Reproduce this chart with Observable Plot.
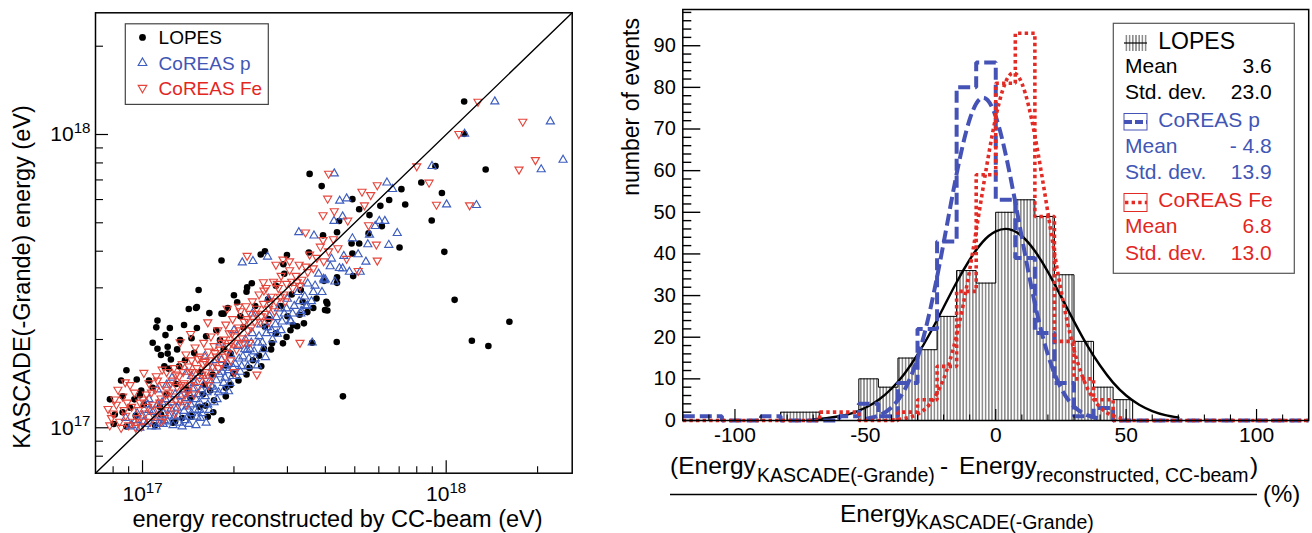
<!DOCTYPE html>
<html><head><meta charset="utf-8">
<script src="https://cdn.jsdelivr.net/npm/d3@7"></script>
<script src="https://cdn.jsdelivr.net/npm/@observablehq/plot@0.6"></script>
<style>
body{margin:0;background:#fff;font-family:"Liberation Sans",Arial,sans-serif;}
#wrap{position:relative;width:1312px;height:533px;overflow:hidden;background:#fff;}
#left{position:absolute;left:0;top:0;width:600px;height:533px;}
#right{position:absolute;left:600px;top:0;width:712px;height:533px;}
</style></head><body>
<svg width="0" height="0" style="position:absolute"><defs>
<pattern id="hatch" patternUnits="userSpaceOnUse" width="3.2" height="10"><line x1="1.6" y1="0" x2="1.6" y2="10" stroke="#000" stroke-width="0.8"/></pattern>
</defs></svg>
<div id="wrap"><div id="left"></div><div id="right"></div></div>
<script>
// ---------------- data: left panel (energies in units of 1e17 eV) ----------------
const unit = 1e17;
const energyDomain = [0.7e17, 2.6e18];
const lopesPts = [[11.46,12.95],[11.46,10.05],[9.22,7.80],[13.49,7.60],[9.68,6.32],[8.28,6.86],[8.96,5.09],[9.86,3.98],[10.66,2.73],[16.15,2.30],[12.15,1.98],[13.77,1.90],[4.57,1.28],[4.36,1.96],[3.55,7.34],[3.89,6.67],[7.12,6.51],[7.33,5.77],[6.49,5.98],[7.02,4.12],[6.14,4.87],[5.17,5.56],[4.91,6.02],[5.59,5.31],[6.07,5.71],[5.55,4.60],[5.17,4.25],[4.88,4.25],[4.91,3.93],[4.37,4.64],[4.44,5.07],[3.93,4.53],[3.53,3.96],[2.99,3.88],[2.91,3.61],[2.93,3.35],[2.45,3.90],[2.53,4.00],[1.82,3.72],[2.29,3.11],[2.21,3.01],[1.53,2.95],[2.00,2.83],[2.20,2.91],[2.05,2.68],[1.91,2.56],[1.50,2.56],[1.42,2.54],[1.66,2.46],[1.82,2.45],[1.12,2.32],[1.11,2.20],[1.23,2.19],[1.08,1.95],[1.12,1.86],[1.21,1.89],[1.15,1.77],[1.21,1.79],[1.30,1.85],[0.885,1.57],[0.957,1.46],[0.781,1.25],[0.804,1.03],[1.82,1.06],[1.71,1.13],[1.64,1.09],[1.45,1.09],[1.88,1.28],[1.67,1.34],[2.20,1.52],[2.46,1.62],[2.67,1.94],[2.90,1.94],[2.98,2.04],[3.13,2.24],[3.29,2.43],[3.74,2.76],[4.03,2.69],[3.99,2.52],[3.65,2.56],[3.37,2.69],[4.37,3.12],[3.96,3.17],[4.94,3.29],[4.37,3.26],[3.32,2.95],[2.75,3.05],[2.59,2.74],[2.42,1.76],[1.95,1.79],[1.33,1.99],[1.38,1.70],[1.24,1.71],[1.22,1.59],[1.29,1.41],[1.08,1.37],[0.99,1.34],[0.86,1.28],[0.81,1.11],[0.885,1.01],[1.01,1.20],[1.15,1.11],[1.26,1.04],[1.35,1.08],[1.54,1.18],[1.58,1.30],[1.44,1.26],[1.99,1.53],[1.88,1.37],[2.31,1.70],[2.07,1.45],[1.70,1.52],[1.88,1.63],[2.75,2.10],[2.53,2.21],[3.23,2.22],[3.62,1.95],[1.80,1.99],[1.51,2.19],[1.37,2.24],[1.19,2.07],[1.45,2.02],[0.94,1.25],[0.85,1.45],[0.91,1.17],[1.51,2.58],[1.85,2.45],[2.51,1.86],[3.07,2.15],[3.40,2.27],[3.49,2.48],[4.06,2.65],[4.06,2.51],[1.61,1.19],[1.72,1.24],[1.44,1.10],[1.28,1.05],[1.14,1.18],[0.98,1.29],[0.86,1.13],
[1.05,1.45],[1.18,1.62],[1.32,1.62],[1.48,1.80],[1.62,2.05],[1.75,2.15],[2.10,2.40],[2.35,2.60],[2.60,2.35],[2.85,2.60],[3.10,2.85],[1.10,1.02],[1.40,1.35],[1.60,1.40],[1.95,1.40],[2.25,1.60],[2.65,1.85],[3.00,2.40],[0.95,1.10],[1.20,1.30],[1.55,1.55],[1.85,1.85],[2.15,2.20]];
const coreasP = [[14.46,12.95],[22.03,11.07],[24.26,8.19],[20.55,7.60],[11.5,10.05],[8.98,7.80],[10.03,5.77],[12.58,5.74],[4.28,7.36],[6.66,6.51],[6.38,6.85],[4.46,5.94],[4.70,6.05],[6.90,4.61],[6.47,4.20],[6.02,5.07],[3.27,4.64],[3.67,4.52],[4.27,5.07],[4.56,5.25],[2.13,3.66],[2.31,3.70],[2.58,3.83],[5.13,3.90],[5.44,3.68],[5.21,3.40],[3.95,3.22],[3.62,1.95],[4.56,3.49],[4.19,3.77],[5.59,4.55],[5.52,4.22],[5.84,4.87],[6.28,5.07],[4.91,4.42],
[0.92,1.02],[0.95,1.06],[0.98,1.00],[1.00,1.10],[1.03,1.03],[1.05,1.15],[1.07,1.01],[1.10,1.08],[1.12,1.20],[1.14,1.03],[1.17,1.12],[1.19,1.25],[1.21,1.05],[1.24,1.16],[1.26,1.02],[1.28,1.30],[1.31,1.10],[1.33,1.22],[1.36,1.35],[1.38,1.06],[1.40,1.18],[1.43,1.30],[1.45,1.12],[1.48,1.42],[1.50,1.25],[1.53,1.15],[1.56,1.35],[1.58,1.50],[1.61,1.28],[1.64,1.20],[1.67,1.45],[1.70,1.60],[1.73,1.35],[1.76,1.25],[1.79,1.52],[1.82,1.70],[1.85,1.42],[1.88,1.60],[1.92,1.33],[1.95,1.78],[1.98,1.50],[2.02,1.65],[2.06,1.90],[2.10,1.55],[2.14,1.75],[2.18,2.00],[2.22,1.62],[2.26,1.85],[2.30,2.10],[2.35,1.72],[2.40,1.95],[2.45,2.25],[2.50,1.85],[2.56,2.10],[2.62,2.40],[2.68,2.00],[2.74,2.25],[2.80,2.55],[2.86,2.15],[2.93,2.45],[3.00,2.75],[3.08,2.30],[3.16,2.60],[3.25,2.90],[3.33,2.50],[3.42,2.80],[3.50,3.10],[3.60,2.70],[3.70,3.05],[3.80,3.35],[3.90,2.90],[4.00,3.20],[4.15,3.55],[4.30,3.15],[4.45,3.50],[4.60,3.85],[4.80,3.40],[1.35,1.01],[1.42,1.03],[1.50,1.02],[1.55,1.08],[1.62,1.04],[2.54,1.74],[2.39,1.63],[1.92,1.57],[1.51,1.09],[1.85,1.34],[2.21,1.84],[2.78,2.09],[3.07,2.32],[3.32,2.45],[3.49,2.61],[3.96,3.18],[0.91,1.01],[1.17,1.03],[1.12,1.35],[1.25,1.48],[1.40,1.55],[1.60,1.75],[1.80,1.95],[2.00,2.15],[2.30,2.45],[2.60,2.75],[1.05,1.25],[0.88,1.08],
[0.96,1.12],[1.01,1.05],[1.04,1.20],[1.08,1.13],[1.11,1.01],[1.13,1.10],[1.16,1.22],[1.18,1.06],[1.22,1.10],[1.25,1.22],[1.27,1.09],[1.30,1.17],[1.32,1.04],[1.34,1.28],[1.37,1.14],[1.39,1.26],[1.41,1.09],[1.44,1.20],[1.46,1.36],[1.49,1.15],[1.52,1.30],[1.54,1.22],[1.57,1.12],[1.59,1.40],[1.63,1.32],[1.66,1.15],[1.69,1.38],[1.72,1.22],[1.75,1.45],[1.78,1.32],[1.83,1.55],[1.87,1.48],[1.91,1.65],[1.94,1.42],[1.99,1.60],[2.04,1.50],[2.08,1.72],[2.12,1.62],[2.17,1.85],[2.24,1.72],[2.28,1.95],[2.33,1.82],[2.42,2.05],[2.48,1.95],[2.58,2.20],[2.66,2.15],[2.76,2.38],[2.88,2.30],[2.98,2.55],[3.12,2.45],[3.28,2.70],[3.45,2.60],[3.65,2.90],[1.20,1.40],[1.45,1.50],[1.75,1.70]];
const coreasFe = [[12.73,12.95],[17.87,11.07],[19.67,8.19],[17.37,7.60],[11.01,10.05],[8.00,7.80],[8.78,6.86],[9.29,5.77],[11.94,5.74],[4.10,7.36],[4.07,6.05],[3.93,5.31],[5.28,6.39],[5.64,6.22],[5.93,6.72],[5.38,5.74],[5.55,4.91],[5.89,4.22],[5.93,3.72],[4.74,5.09],[3.44,4.64],[2.21,3.86],[3.30,1.95],[2.50,3.14],[3.93,4.37],[4.28,5.48],[5.13,3.43],[4.70,3.77],[2.38,1.52],[2.00,1.55],
[0.78,1.02],[0.80,1.12],[0.82,1.20],[0.84,1.05],[0.86,1.28],[0.88,1.10],[0.90,1.02],[0.92,1.18],[0.94,1.32],[0.96,1.08],[0.98,1.22],[0.99,1.01],[1.02,1.12],[1.03,1.30],[1.05,1.42],[1.06,1.05],[1.08,1.20],[1.10,1.35],[1.11,1.50],[1.13,1.15],[1.15,1.26],[1.17,1.40],[1.18,1.08],[1.20,1.55],[1.22,1.32],[1.24,1.20],[1.25,1.45],[1.27,1.60],[1.28,1.12],[1.30,1.38],[1.32,1.50],[1.33,1.25],[1.35,1.65],[1.37,1.42],[1.39,1.78],[1.41,1.33],[1.43,1.55],[1.45,1.70],[1.47,1.45],[1.49,1.88],[1.51,1.60],[1.53,1.38],[1.55,1.75],[1.57,1.52],[1.59,1.95],[1.61,1.68],[1.63,1.45],[1.65,1.82],[1.68,2.05],[1.70,1.62],[1.72,1.90],[1.75,1.75],[1.77,2.15],[1.80,1.85],[1.82,1.65],[1.85,2.00],[1.88,2.25],[1.90,1.80],[1.93,2.10],[1.96,1.95],[1.98,2.35],[2.01,2.05],[2.04,1.85],[2.07,2.20],[2.10,2.50],[2.13,2.02],[2.16,2.30],[2.19,2.60],[2.22,2.15],[2.26,2.45],[2.30,2.70],[2.34,2.30],[2.38,2.55],[2.42,2.85],[2.46,2.40],[2.50,2.65],[2.55,3.00],[2.60,2.55],[2.65,2.80],[2.70,3.15],[2.75,2.70],[2.80,3.00],[2.86,3.30],[2.92,2.85],[2.98,3.10],[3.05,3.45],[3.12,3.00],[3.20,3.30],[3.28,3.60],[3.35,3.20],[3.45,3.55],[3.55,3.90],[3.65,3.50],[3.75,3.80],[3.85,4.15],[3.95,3.70],[4.10,4.00],[4.25,4.40],[4.40,4.10],[2.75,3.60],[2.90,3.75],[3.05,3.70],[0.77,1.16],[0.877,1.43],[1.01,1.54],[1.33,1.96],[1.44,2.09],[1.64,2.29],[1.90,2.55],[2.07,2.59],[2.51,2.94],[2.78,3.10],[3.23,3.14],[1.15,1.05],[1.40,1.20],[1.65,1.40],[1.95,1.70],[2.25,1.95],[2.60,2.30],
[0.83,1.35],[0.87,1.15],[0.91,1.40],[0.93,1.05],[0.97,1.15],[1.00,1.25],[1.04,1.18],[1.07,1.32],[1.09,1.10],[1.12,1.45],[1.14,1.22],[1.16,1.58],[1.19,1.30],[1.21,1.15],[1.23,1.40],[1.26,1.28],[1.29,1.52],[1.31,1.20],[1.34,1.40],[1.36,1.55],[1.38,1.30],[1.42,1.62],[1.44,1.40],[1.46,1.55],[1.48,1.30],[1.52,1.72],[1.54,1.48],[1.58,1.65],[1.62,1.55],[1.66,1.70],[1.69,1.50],[1.73,1.80],[1.78,1.60],[1.83,1.95],[1.87,1.75],[1.92,1.90],[1.97,2.10],[2.03,1.95],[2.09,2.15],[2.15,1.95],[2.21,2.35],[2.28,2.20],[2.36,2.45],[2.44,2.30],[2.53,2.45],[2.63,2.65],[2.72,2.50],[2.84,2.80],[2.95,2.70],[3.10,3.15],[3.30,3.05],[3.50,3.40],[0.79,1.08],[0.81,1.25],[0.85,1.00],[0.89,1.22],[0.95,1.00],[1.01,1.05]];
const majorE = [1e17, 1e18];
const scatterNames = ["LOPES", "CoREAS p", "CoREAS Fe"];

// ---------------- data: right panel ----------------
const binEdges = [-120,-112.5,-105,-97.5,-90,-82.5,-75,-67.5,-60,-52.5,-45,-37.5,-30,-22.5,-15,-7.5,0,7.5,15,22.5,30,37.5,45,52.5,60,67.5,75,82.5,90,97.5,105,112.5,120];
const lopesCounts = [0,0,0,0,0,2,2,0,0,10,8,15,17,25,36,33,50,53,49,35,19,8,5,0,0,0,0,0,0,0,0,0];
const pCounts     = [1,1,0,0,1,0,0,0,1,4,1,9,22,43,80,86,53,39,21,9,1,3,0,0,0,0,0,0,0,0,0,0];
const feCounts    = [0,0,0,0,0,0,0,2,2,0,0,2,5,13,31,59,81,93,49,19,10,5,0,0,0,0,0,0,0,0,0,0];
const lopesFitX = [-70,-65,-60,-55,-50,-45,-40,-35,-30,-25,-20,-15,-10,-5,0,5,10,15,20,25,30,35,40,45,50,55,60,65,70];
const lopesFitY = [0.28,0.54,1.01,1.79,3.05,4.94,7.63,11.25,15.8,21.2,27.2,33.2,38.6,42.9,45.4,45.95,44.3,40.7,35.7,29.8,23.8,18.1,13.2,9.1,6.0,3.79,2.27,1.30,0.71];
const pFitX = [-50,-45,-40,-35,-30,-25,-20,-15,-10,-5,0,5,10,15,20,25,30,35,40];
const pFitY = [0.39,1.18,3.14,7.3,15.0,27.0,42.6,59.2,72.3,77.5,73.0,60.4,44.0,28.1,15.8,7.8,3.37,1.29,0.43];
const feFitX = [-40,-35,-30,-25,-20,-15,-10,-5,0,5,10,15,20,25,30,35,40,45,50];
const feFitY = [0.13,0.48,1.52,4.19,9.97,20.5,36.2,55.3,72.8,82.7,81.0,68.4,49.9,31.3,17.0,7.94,3.2,1.11,0.33];
const countDomain = [0, 98.7];
const diffDomain = [-120, 120];
const xMajorR = [-100, -50, 0, 50, 100];
const yMajorR = [0, 10, 20, 30, 40, 50, 60, 70, 80, 90];
const histNames = ["LOPES", "CoREAS p", "CoREAS Fe"];
const statMeans = ["3.6", "- 4.8", "6.8"];
const statStds = ["23.0", "13.9", "13.0"];

// ---------------- styles ----------------
const FONT = "Liberation Sans, Arial, sans-serif";
const BLACK = "#000", BLUE_PT = "#3d5dbf", RED_PT = "#e5463c";
const BLUE_H = "#4653b6", RED_H = "#e32b25";
const BLUE_T = "#4156b5", RED_T = "#e3271f";

// ---------------- left panel ----------------
const H = 533;
const mL = {left: 95, right: 28.3, top: 12.3, bottom: 60.3};
const fwL = 600 - mL.left - mL.right, fhL = H - mL.top - mL.bottom;
const logTicks = d3.scaleLog().domain(energyDomain).ticks();
const isMajor = t => majorE.some(m => Math.abs(t / m - 1) < 1e-9);
const minorE = logTicks.filter(t => !isMajor(t) && t > energyDomain[0] * 1.001);
const sqrt3 = Math.sqrt(3);
const triangleDown = {draw(ctx, size) {
  const y = -Math.sqrt(size / (sqrt3 * 3));
  ctx.moveTo(0, -y * 2); ctx.lineTo(-sqrt3 * y, y); ctx.lineTo(sqrt3 * y, y); ctx.closePath();
}};
const ex = d => d[0] * unit, ey = d => d[1] * unit;

const left = Plot.plot({
  width: 600, height: H,
  marginLeft: mL.left, marginRight: mL.right, marginTop: mL.top, marginBottom: mL.bottom,
  style: {fontFamily: FONT, color: "#000", background: "transparent"},
  x: {type: "log", domain: energyDomain},
  y: {type: "log", domain: energyDomain},
  marks: [
    Plot.dot(lopesPts, {x: ex, y: ey, r: 3.3, fill: BLACK, stroke: "none"}),
    Plot.dot(coreasP, {x: ex, y: ey, r: 3.0, symbol: "triangle", fill: "none", stroke: BLUE_PT, strokeWidth: 1.15}),
    Plot.dot(coreasFe, {x: ex, y: ey, r: 3.0, symbol: triangleDown, fill: "none", stroke: RED_PT, strokeWidth: 1.15}),
    Plot.line(energyDomain.map(v => [v, v]), {x: d => d[0], y: d => d[1], stroke: BLACK, strokeWidth: 1.4}),
    Plot.tickX(majorE, {x: d => d, insetTop: fhL - 12.5, stroke: BLACK, strokeWidth: 1.2}),
    Plot.tickX(minorE, {x: d => d, insetTop: fhL - 6.5, stroke: BLACK, strokeWidth: 1.1}),
    Plot.tickY(majorE, {y: d => d, insetRight: fwL - 13, stroke: BLACK, strokeWidth: 1.2}),
    Plot.tickY(minorE, {y: d => d, insetRight: fwL - 8, stroke: BLACK, strokeWidth: 1.1}),
    Plot.axisX(majorE, {tickSize: 0, tickPadding: 13, fontSize: 21, label: null, tickFormat: d => "10^" + Math.round(Math.log10(d))}),
    Plot.axisY(majorE, {tickSize: 0, tickPadding: 5, fontSize: 21, label: null, tickFormat: d => "10^" + Math.round(Math.log10(d))}),
    Plot.frame({stroke: BLACK, strokeWidth: 1.5})
  ]
});
document.getElementById("left").appendChild(left);

function supify(svg) {
  d3.select(svg).selectAll("text").each(function() {
    const m = /^10\^(\d+)$/.exec(this.textContent);
    if (m) {
      this.textContent = "10";
      d3.select(this).append("tspan").attr("dy", "-0.55em").attr("font-size", "0.72em").text(m[1]);
    }
  });
}
supify(left);

const L = d3.select(left);
L.append("text").attr("transform", "translate(30,277) rotate(-90)").attr("text-anchor", "middle")
  .attr("font-size", 23.5).attr("font-family", FONT).attr("fill", BLACK).text("KASCADE(-Grande) energy (eV)");
L.append("text").attr("x", 337.5).attr("y", 527).attr("text-anchor", "middle")
  .attr("font-size", 23.5).attr("font-family", FONT).attr("fill", BLACK).text("energy reconstructed by CC-beam (eV)");
// legend
const lgL = L.append("g").attr("text-anchor", "start");
lgL.append("rect").attr("x", 125.3).attr("y", 23.8).attr("width", 143).attr("height", 80.6)
  .attr("fill", "#fff").attr("stroke", "#444").attr("stroke-width", 1.2);
const legY = [37.4, 63, 87.8];
const legCol = [BLACK, BLUE_T, RED_T];
lgL.append("circle").attr("cx", 142.5).attr("cy", legY[0]).attr("r", 3.4).attr("fill", BLACK);
lgL.append("path").attr("transform", `translate(142.5,${legY[1]})`).attr("d", d3.symbol(d3.symbolTriangle, 3.2 * 3.2 * Math.PI)())
  .attr("fill", "none").attr("stroke", BLUE_PT).attr("stroke-width", 1.15);
lgL.append("path").attr("transform", `translate(142.5,${legY[2]})`).attr("d", d3.symbol(triangleDown, 3.2 * 3.2 * Math.PI)())
  .attr("fill", "none").attr("stroke", RED_PT).attr("stroke-width", 1.15);
scatterNames.forEach((n, i) => {
  lgL.append("text").attr("x", 158.6).attr("y", legY[i] + 7).attr("font-size", 19).attr("text-anchor", "start")
    .attr("font-family", FONT).attr("fill", legCol[i]).text(n);
});

// ---------------- right panel ----------------
const mR = {left: 82.3, right: 3.8, top: 9, bottom: 113};
const fwR = 712 - mR.left - mR.right, fhR = H - mR.top - mR.bottom;
const xMinorR = d3.range(diffDomain[0], diffDomain[1] + 0.1, 10).filter(v => !xMajorR.includes(v) && v > diffDomain[0] && v < diffDomain[1]);
const yMinorR = d3.range(0, countDomain[1], 2).filter(v => !yMajorR.includes(v));
const bars = counts => counts.map((c, i) => ({x1: binEdges[i], x2: binEdges[i + 1], c}));
const steps = counts => counts.map((c, i) => ({x: binEdges[i], y: c})).concat([{x: binEdges[counts.length], y: counts[counts.length - 1]}]);
const fit = (xs, ys) => xs.map((x, i) => ({x, y: ys[i]}));

const right = Plot.plot({
  width: 712, height: H,
  marginLeft: mR.left, marginRight: mR.right, marginTop: mR.top, marginBottom: mR.bottom,
  style: {fontFamily: FONT, color: "#000", background: "transparent"},
  x: {domain: diffDomain},
  y: {domain: countDomain},
  marks: [
    Plot.rect(bars(lopesCounts), {x1: "x1", x2: "x2", y1: 0, y2: "c", fill: "url(#hatch)"}),
    Plot.line(steps(lopesCounts), {x: "x", y: "y", curve: "step-after", stroke: BLACK, strokeWidth: 1}),
    Plot.line(fit(lopesFitX, lopesFitY), {x: "x", y: "y", curve: "natural", stroke: BLACK, strokeWidth: 2.4}),
    Plot.line(steps(pCounts), {x: "x", y: "y", curve: "step-after", stroke: BLUE_H, strokeWidth: 4, strokeDasharray: "12,5", strokeLinecap: "butt", strokeLinejoin: "miter"}),
    Plot.line(fit(pFitX, pFitY), {x: "x", y: "y", curve: "natural", stroke: BLUE_H, strokeWidth: 4, strokeDasharray: "12,5", strokeLinecap: "butt"}),
    Plot.line(steps(feCounts), {x: "x", y: "y", curve: "step-after", stroke: RED_H, strokeWidth: 3.6, strokeDasharray: "3.4,3.2", strokeLinecap: "butt", strokeLinejoin: "miter"}),
    Plot.line(fit(feFitX, feFitY), {x: "x", y: "y", curve: "natural", stroke: RED_H, strokeWidth: 3.6, strokeDasharray: "3.4,3.2", strokeLinecap: "butt"}),
    Plot.tickX(xMajorR, {x: d => d, insetTop: fhR - 11, stroke: BLACK, strokeWidth: 1.2}),
    Plot.tickX(xMinorR, {x: d => d, insetTop: fhR - 5.5, stroke: BLACK, strokeWidth: 1.1}),
    Plot.tickY(yMajorR, {y: d => d, insetRight: fwR - 18, stroke: BLACK, strokeWidth: 1.4}),
    Plot.tickY(yMinorR, {y: d => d, insetRight: fwR - 9, stroke: BLACK, strokeWidth: 1.4}),
    Plot.axisX(xMajorR, {tickSize: 0, tickPadding: 7, fontSize: 21, label: null, tickFormat: d => d < 0 ? "-" + (-d) : String(d)}),
    Plot.axisY(yMajorR, {tickSize: 0, tickPadding: 7, fontSize: 20, label: null}),
    Plot.frame({stroke: BLACK, strokeWidth: 1.5})
  ]
});
document.getElementById("right").appendChild(right);

const R = d3.select(right);
R.append("text").attr("transform", "translate(39,18) rotate(-90)").attr("text-anchor", "end")
  .attr("font-size", 23).attr("font-family", FONT).attr("fill", BLACK).text("number of events");
const num = R.append("text").attr("font-family", FONT).attr("fill", BLACK).attr("text-anchor", "start");
num.append("tspan").attr("x", 70).attr("y", 474).attr("font-size", 24.5).text("(Energy");
num.append("tspan").attr("x", 157).attr("y", 482).attr("font-size", 19.5).text("KASCADE(-Grande)");
num.append("tspan").attr("x", 340).attr("y", 474).attr("font-size", 24.5).text("-");
num.append("tspan").attr("x", 359).attr("y", 474).attr("font-size", 24.5).text("Energy");
num.append("tspan").attr("x", 436).attr("y", 482).attr("font-size", 19.5).text("reconstructed, CC-beam");
num.append("tspan").attr("x", 650).attr("y", 474).attr("font-size", 24.5).text(")");
R.append("line").attr("x1", 70).attr("x2", 657).attr("y1", 494.5).attr("y2", 494.5).attr("stroke", BLACK).attr("stroke-width", 1.3);
R.append("text").attr("x", 663).attr("y", 502).attr("font-size", 24).attr("text-anchor", "start").attr("font-family", FONT).attr("fill", BLACK).text("(%)");
const den = R.append("text").attr("font-family", FONT).attr("fill", BLACK).attr("text-anchor", "start");
den.append("tspan").attr("x", 240).attr("y", 522).attr("font-size", 24.5).text("Energy");
den.append("tspan").attr("x", 316).attr("y", 529).attr("font-size", 19.5).text("KASCADE(-Grande)");

// legend right
const lgR = R.append("g").attr("font-family", FONT).attr("text-anchor", "start");
lgR.append("rect").attr("x", 513.3).attr("y", 23.3).attr("width", 181).attr("height", 250)
  .attr("fill", "#fff").attr("stroke", "#555").attr("stroke-width", 1.2);
lgR.append("rect").attr("x", 524).attr("y", 35).attr("width", 23).attr("height", 16).attr("fill", "url(#hatch)");
lgR.append("line").attr("x1", 524).attr("x2", 547).attr("y1", 43).attr("y2", 43).attr("stroke", BLACK).attr("stroke-width", 1.2);
lgR.append("rect").attr("x", 524).attr("y", 113.5).attr("width", 23).attr("height", 16.5).attr("fill", "none").attr("stroke", BLUE_H).attr("stroke-width", 1);
lgR.append("line").attr("x1", 524).attr("x2", 547).attr("y1", 122).attr("y2", 122).attr("stroke", BLUE_H).attr("stroke-width", 4).attr("stroke-dasharray", "8,3");
lgR.append("rect").attr("x", 524).attr("y", 193.5).attr("width", 23).attr("height", 18).attr("fill", "none").attr("stroke", RED_H).attr("stroke-width", 1);
lgR.append("line").attr("x1", 525).attr("x2", 547).attr("y1", 202.5).attr("y2", 202.5).attr("stroke", RED_H).attr("stroke-width", 3.5).attr("stroke-dasharray", "3.4,3.2");
const nameY = [49.3, 127.3, 206.7], meanY = [73.3, 153.3, 233.3], stdY = [99.3, 179.3, 260];
const txtCol = [BLACK, BLUE_T, RED_T];
histNames.forEach((n, i) => {
  lgR.append("text").attr("x", 558.3).attr("y", nameY[i]).attr("font-size", i === 0 ? 23 : 21).attr("fill", txtCol[i]).text(n);
  lgR.append("text").attr("x", 525).attr("y", meanY[i]).attr("font-size", 21).attr("fill", txtCol[i]).text("Mean");
  lgR.append("text").attr("x", 671.7).attr("y", meanY[i]).attr("font-size", 21).attr("text-anchor", "end").attr("fill", txtCol[i]).text(statMeans[i]);
  lgR.append("text").attr("x", 525).attr("y", stdY[i]).attr("font-size", 21).attr("fill", txtCol[i]).text("Std. dev.");
  lgR.append("text").attr("x", 671.7).attr("y", stdY[i]).attr("font-size", 21).attr("text-anchor", "end").attr("fill", txtCol[i]).text(statStds[i]);
});
</script>
</body></html>
